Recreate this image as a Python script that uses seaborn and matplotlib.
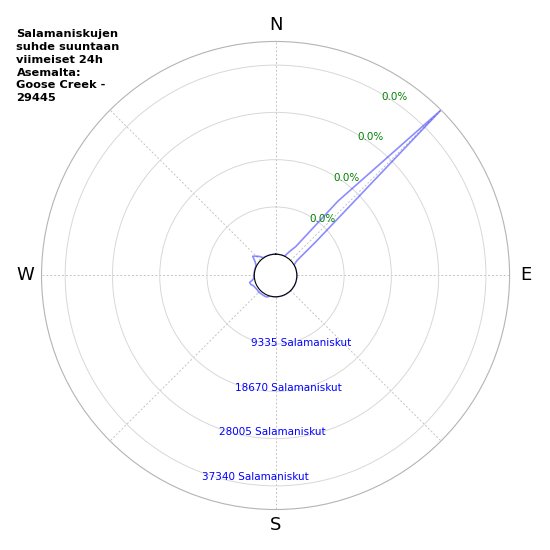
import numpy as np
import pandas as pd
import matplotlib
matplotlib.use('Agg')
import matplotlib.pyplot as plt
import seaborn as sns


# DATA - salamaniskut suunnittain (5 asteen lohkot)
suunnat = np.arange(0, 360, 5)
salamat = [0, 0, 0, 0, 0, 0, 1200, 2800, 15000, 42008, 6300, 1000,
           0, 0, 0, 0, 0, 0, 0, 0, 0, 0, 0, 0,
           0, 0, 0, 0, 0, 0, 0, 0, 0, 0, 0, 0,
           0, 0, 0, 0, 300, 400, 400, 400, 400, 500, 400, 400,
           500, 600, 1000, 1100, 300, 100, 50, 50, 50, 50, 50, 100,
           300, 800, 1700, 1200, 700, 100, 0, 0, 0, 0, 0, 0]
rengas_arvot = [9335, 18670, 28005, 37340]
rengas_tekstit = ['9335 Salamaniskut', '18670 Salamaniskut', '28005 Salamaniskut', '37340 Salamaniskut']
prosentit = ['0.0%', '0.0%', '0.0%', '0.0%']
ilmansuunnat = ['N', '', 'E', '', 'S', '', 'W', '']
otsikko = 'Salamaniskujen\nsuhde suuntaan\nviimeiset 24h\nAsemalta:\nGoose Creek -\n29445'

rmax = 42008


def grafiikka():
    sns.set_style('white')
    plt.rcParams['text.color'] = 'black'
    fig = plt.figure(figsize=(5.5, 5.5), dpi=100)
    ax = fig.add_axes([0.0755, 0.0736, 0.851, 0.851], projection='polar')

    df = pd.DataFrame({'theta': np.deg2rad(np.append(suunnat, 360)),
                       'r': np.append(salamat, salamat[0])})
    sns.lineplot(data=df, x='theta', y='r', ax=ax, sort=False, color='blue', alpha=0.45, lw=1.2)

    ax.set_theta_zero_location('N')
    ax.set_theta_direction(-1)
    ax.set_ylim(0, rmax)
    ax.set_rorigin(-4200)

    ax.set_xticks(np.deg2rad(np.arange(0, 360, 45)))
    ax.set_xticklabels(ilmansuunnat, fontsize=13, color='black')
    ax.tick_params(axis='x', pad=1)
    ax.set_yticks(rengas_arvot)
    ax.set_yticklabels([])
    ax.set_xlabel('')
    ax.set_ylabel('')

    ax.xaxis.grid(True, color='#c4c4c4', linestyle=(0, (2, 2)), lw=0.7)
    ax.yaxis.grid(True, color='#d8d8d8', linestyle='-', lw=0.7)
    ax.spines['polar'].set_color('#b4b4b4')
    ax.spines['polar'].set_linewidth(0.8)
    ax.spines['inner'].set_color('black')
    ax.spines['inner'].set_linewidth(0.8)

    for arvo, teksti in zip(rengas_arvot, rengas_tekstit):
        ax.text(np.deg2rad(200), arvo + 700, teksti, color='blue', fontsize=7.5, ha='left', va='center')
    for arvo, teksti in zip(rengas_arvot, prosentit):
        ax.text(np.deg2rad(30.6), arvo - 500, teksti, color='green', fontsize=7.5, ha='left', va='center')

    fig.text(0.03, 0.947, otsikko, fontsize=8.2, fontweight='bold', ha='left', va='top', linespacing=1.35)
    fig.savefig('out.png', dpi=100)


grafiikka()
